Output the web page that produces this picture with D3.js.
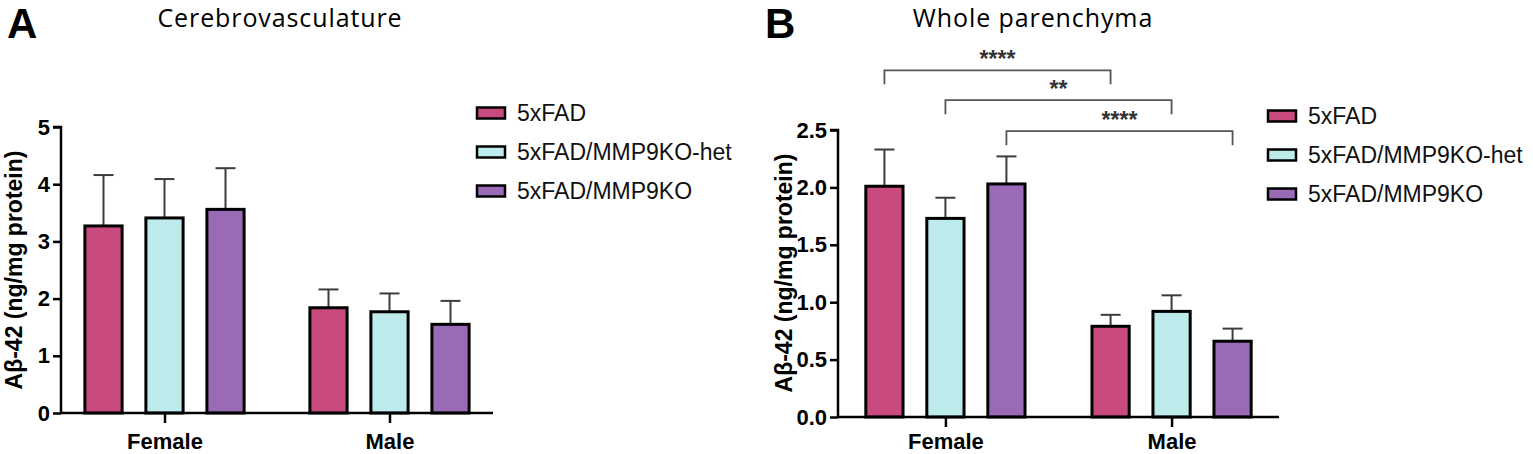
<!DOCTYPE html>
<html>
<head>
<meta charset="utf-8">
<script src="https://cdn.jsdelivr.net/npm/d3@7"></script>
<style>
  html, body { margin: 0; padding: 0; background: #fff; }
  svg { display: block; }
  text { font-family: "Liberation Sans", Arial, sans-serif; }
</style>
</head>
<body>
<svg id="chart" width="1533" height="454"></svg>
<script>
// ---------- data ----------
const categories = ["Female", "Male"];
const series = ["5xFAD", "5xFAD/MMP9KO-het", "5xFAD/MMP9KO"];
const seriesColors = ["#C84A7E", "#BDEBEC", "#9A6AB6"];

// Panel A: Cerebrovasculature (mean, SEM upper)
const cereMean = [[3.27, 3.41, 3.56], [1.84, 1.77, 1.55]];
const cereErr  = [[0.89, 0.68, 0.72], [0.32, 0.32, 0.41]];
const cereTicks = [0, 1, 2, 3, 4, 5];

// Panel B: Whole parenchyma
const parMean = [[2.01, 1.73, 2.03], [0.79, 0.92, 0.66]];
const parErr  = [[0.32, 0.18, 0.24], [0.10, 0.14, 0.11]];
const parTicks = [0, 0.5, 1.0, 1.5, 2.0, 2.5];

// Significance comparisons (panel B): [category, series] -> [category, series]
const sigFrom  = [[0, 0], [0, 1], [0, 2]];
const sigTo    = [[1, 0], [1, 1], [1, 2]];
const sigLevel = [3.02, 2.76, 2.49];
const sigLabel = ["****", "**", "****"];

const yLabel = "Aβ-42 (ng/mg protein)";

// ---------- drawing ----------
const svg = d3.select("#chart");

function panel(cfg) {
  const g = svg.append("g");
  const y = d3.scaleLinear().domain([0, cfg.yMax]).range([cfg.y0, cfg.y1]);
  const x = d3.scalePoint().domain(categories).range([cfg.xStart, cfg.xEnd]).padding(cfg.pad);
  const xs = d3.scaleBand().domain(series).range([-91.5, 91.5]).paddingInner(0.39).paddingOuter(0.195);

  // panel letter & title
  g.append("text").attr("x", cfg.letterX).attr("y", 38)
    .style("font-size", "42px").style("font-weight", "bold").text(cfg.letter);
  g.append("text").attr("x", cfg.titleX).attr("y", 27).attr("text-anchor", "middle")
    .style("font-family", "'Open Sans', sans-serif").style("font-size", "25px")
    .style("letter-spacing", "0.9px").text(cfg.title);

  // bars
  const data = [];
  categories.forEach((c, ci) => series.forEach((s, si) => {
    data.push({c, s, si, v: cfg.mean[ci][si], e: cfg.err[ci][si]});
  }));
  const bw = xs.bandwidth();
  // error bars (behind bars)
  data.forEach(d => {
    const cx = x(d.c) + xs(d.s) + bw / 2;
    g.append("line").attr("x1", cx).attr("x2", cx)
      .attr("y1", y(d.v)).attr("y2", y(d.v + d.e))
      .attr("stroke", "#3c3c3c").attr("stroke-width", 2);
    g.append("line").attr("x1", cx - 10).attr("x2", cx + 10)
      .attr("y1", y(d.v + d.e)).attr("y2", y(d.v + d.e))
      .attr("stroke", "#3c3c3c").attr("stroke-width", 2);
  });
  g.selectAll("rect.bar").data(data).enter().append("rect")
    .attr("class", "bar")
    .attr("x", d => x(d.c) + xs(d.s))
    .attr("width", bw)
    .attr("y", d => y(d.v))
    .attr("height", d => y(0) - y(d.v))
    .attr("fill", d => seriesColors[d.si])
    .attr("stroke", "#000").attr("stroke-width", 3);

  // y axis
  const yAxis = d3.axisLeft(y).tickValues(cfg.ticks).tickSize(8).tickPadding(3)
    .tickFormat(cfg.fmt);
  const ya = g.append("g").attr("transform", `translate(${cfg.xStart},0)`).call(yAxis);
  ya.select(".domain").attr("stroke", "#000").attr("stroke-width", 2.5)
    .attr("d", `M-8,${cfg.y1}H0V${cfg.y0}`);
  ya.selectAll(".tick line").attr("stroke", "#000").attr("stroke-width", 2.5);
  ya.selectAll(".tick text").attr("fill", "#000")
    .style("font-size", "22px").style("font-weight", "bold")
    .style("font-family", "'Liberation Sans', Arial, sans-serif");

  // x axis
  const xAxis = d3.axisBottom(x).tickSize(10).tickPadding(10);
  const xa = g.append("g").attr("transform", `translate(0,${cfg.y0})`).call(xAxis);
  xa.select(".domain").attr("stroke", "#000").attr("stroke-width", 2.5)
    .attr("d", `M${cfg.xStart},0H${cfg.xEnd}`);
  xa.selectAll(".tick line").attr("stroke", "#000").attr("stroke-width", 2.5);
  xa.selectAll(".tick text").attr("fill", "#000").attr("dy", "0")
    .attr("y", 449 - cfg.y0)
    .style("font-size", "22px").style("font-weight", "bold")
    .style("font-family", "'Liberation Sans', Arial, sans-serif");

  // y label
  g.append("text")
    .attr("transform", `translate(${cfg.yLabelX},${cfg.yLabelY}) rotate(-90)`)
    .attr("text-anchor", "middle").attr("dominant-baseline", "central")
    .style("font-size", "23px").style("font-weight", "bold").text(yLabel);

  // legend
  series.forEach((s, i) => {
    const ly = cfg.legY + i * 39;
    g.append("rect").attr("x", cfg.legX).attr("y", ly - 5.5).attr("width", 28).attr("height", 11)
      .attr("fill", seriesColors[i]).attr("stroke", "#000").attr("stroke-width", 2.5);
    g.append("text").attr("x", cfg.legX + 40).attr("y", ly).attr("dominant-baseline", "central")
      .style("font-size", "23px").attr("fill", "#111").text(s);
  });

  // significance brackets
  if (cfg.sig) {
    sigFrom.forEach((f, i) => {
      const t = sigTo[i];
      const x1 = x(categories[f[0]]) + xs(series[f[1]]) + bw / 2;
      const x2 = x(categories[t[0]]) + xs(series[t[1]]) + bw / 2;
      const yy = y(sigLevel[i]);
      g.append("path").attr("d", `M${x1},${yy + 14}V${yy}H${x2}V${yy + 14}`)
        .attr("fill", "none").attr("stroke", "#555").attr("stroke-width", 1.8);
      g.append("text").attr("x", (x1 + x2) / 2).attr("y", yy - 3).attr("text-anchor", "middle")
        .style("font-size", "23px").style("font-weight", "bold").attr("fill", "#333")
        .text(sigLabel[i]);
    });
  }
}

panel({
  letter: "A", letterX: 7, title: "Cerebrovasculature", titleX: 280,
  mean: cereMean, err: cereErr, ticks: cereTicks, yMax: 5, fmt: d3.format("d"),
  y0: 413, y1: 127, xStart: 61, xEnd: 493, pad: 0.46,
  yLabelX: 14, yLabelY: 270, legX: 477, legY: 113, sig: false
});
panel({
  letter: "B", letterX: 765, title: "Whole parenchyma", titleX: 1033,
  mean: parMean, err: parErr, ticks: parTicks, yMax: 2.5, fmt: d3.format(".1f"),
  y0: 417, y1: 130, xStart: 838, xEnd: 1279, pad: 0.475,
  yLabelX: 784, yLabelY: 273, legX: 1268, legY: 116, sig: true
});
</script>
</body>
</html>
